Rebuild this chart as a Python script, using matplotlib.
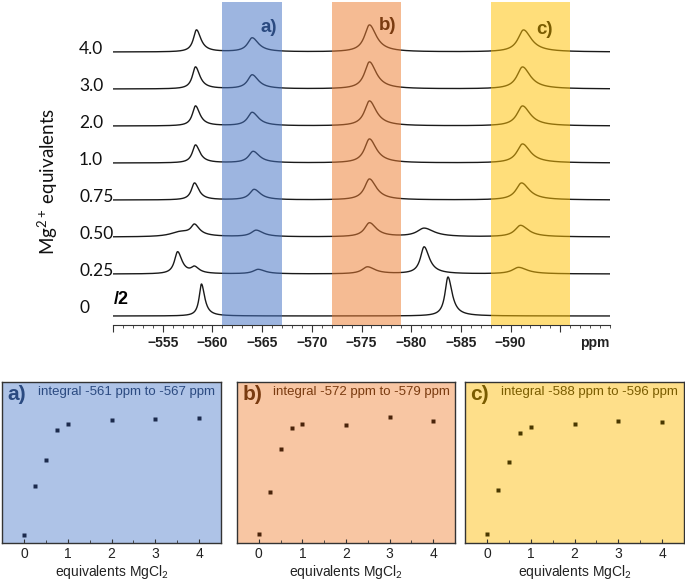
import numpy as np
import matplotlib
matplotlib.use('Agg')
import matplotlib.pyplot as plt
from matplotlib.ticker import MultipleLocator
from matplotlib.transforms import blended_transform_factory


# titration points (equivalents of MgCl2)
EQUIVALENTS = [0, 0.25, 0.5, 0.75, 1, 2, 3, 4]
TRACE_LABELS = ['0', '0.25', '0.50', '0.75', '1.0', '2.0', '3.0', '4.0']

# peaks of each spectrum: (shift ppm, height, half width ppm)
PEAKS_0 = [(-558.9, 32, 0.28), (-583.7, 39, 0.36)]
PEAKS_025 = [(-556.5, 22, 0.38), (-558.2, 6, 0.4), (-564.6, 4.5, 0.6), (-575.6, 7, 0.65),
             (-581.3, 27, 0.45), (-590.8, 6.5, 0.75)]
PEAKS_050 = [(-556.8, 5, 1.2), (-558.2, 10, 0.42), (-564.4, 6.5, 0.6), (-575.8, 14, 0.6),
             (-581.3, 8.5, 0.85), (-591.0, 11.5, 0.68)]
PEAKS_075 = [(-558.2, 17, 0.38), (-564.2, 10.5, 0.55), (-575.8, 21, 0.6), (-591.1, 17, 0.68)]
PEAKS_1 = [(-558.3, 18, 0.38), (-564.1, 11.5, 0.55), (-575.8, 24, 0.6), (-591.2, 19, 0.68)]
PEAKS_2 = [(-558.3, 20, 0.38), (-564.0, 13.5, 0.55), (-575.8, 25, 0.6), (-591.2, 20, 0.68)]
PEAKS_3 = [(-558.3, 22, 0.38), (-564.0, 14, 0.55), (-575.8, 27, 0.6), (-591.2, 22, 0.68)]
PEAKS_4 = [(-558.4, 22, 0.38), (-564.0, 14, 0.55), (-575.8, 27, 0.6), (-591.3, 22, 0.68)]
ALL_PEAKS = [PEAKS_0, PEAKS_025, PEAKS_050, PEAKS_075, PEAKS_1, PEAKS_2, PEAKS_3, PEAKS_4]

# integration windows
WINDOWS = [(-561, -567), (-572, -579), (-588, -596)]
WINDOW_NAMES = ['a)', 'b)', 'c)']

# normalised integrals for each window
INTEGRAL_A = [0.052, 0.355, 0.515, 0.701, 0.742, 0.767, 0.769, 0.779]
INTEGRAL_B = [0.056, 0.315, 0.581, 0.714, 0.741, 0.732, 0.784, 0.759]
INTEGRAL_C = [0.056, 0.332, 0.502, 0.685, 0.720, 0.741, 0.755, 0.751]

SPAN_COLORS = ['#4472c4', '#ed7d31', '#ffc000']
FACE_COLORS = ['#aec3e7', '#f8c6a3', '#fedf8a']
TEXT_COLORS = ['#2b4a80', '#7a3b10', '#7a5c00']
MARKER_COLORS = ['#1c2a4d', '#4a230a', '#4a3800']

W, H = 685, 582

plt.rcParams['mathtext.fontset'] = 'custom'
plt.rcParams['mathtext.rm'] = 'Lato'
plt.rcParams['mathtext.it'] = 'Lato:italic'


def spectrum(ppm, peaks, skew=1.4):
	'Sum of split Lorentzians, longer tail towards high field.'
	total = np.zeros_like(ppm)
	for centre, height, width in peaks:
		gamma = np.where(ppm < centre, width * skew, width)
		total += height * gamma ** 2 / ((ppm - centre) ** 2 + gamma ** 2)
	return total


def fig_rect(left, top, right, bottom):
	return [left / W, 1 - bottom / H, (right - left) / W, (bottom - top) / H]


fig = plt.figure(figsize=(W / 100, H / 100), dpi=100)

# ---- stacked spectra ----
ax = fig.add_axes(fig_rect(113, 2, 610, 325))
ppm = np.linspace(-550, -600, 2000)
offsets = [9] + [51 + 37 * i for i in range(7)]
for peaks, off in zip(ALL_PEAKS, offsets):
	ax.plot(ppm, off + spectrum(ppm, peaks), color='#1a1a1a', lw=1.0, zorder=2)

for (lo, hi), col in zip(WINDOWS, SPAN_COLORS):
	ax.axvspan(lo, hi, color=col, alpha=0.52, lw=0, zorder=3)

for (lo, hi), name, col, dx, y in zip(WINDOWS, WINDOW_NAMES, TEXT_COLORS, [-4.7, -5.6, -5.4], [298, 300, 295]):
	ax.text(lo + dx, y, name, color=col, fontsize=13.5, fontweight='bold', ha='center', va='center',
			family='Liberation Sans', zorder=4)

ax.set_xlim(-550, -600)
ax.set_ylim(0, 323)
for side in ['top', 'left', 'right']:
	ax.spines[side].set_visible(False)
ax.spines['bottom'].set_color('#333333')
ax.set_yticks([])
major = list(range(-550, -600, -5))
ax.set_xticks(major)
ax.set_xticklabels(['' if t in (-550, -595) else '\u2212%d' % -t for t in major],
				   fontsize=10, fontweight='bold', family='Liberation Sans', color='#222222')
ax.xaxis.set_minor_locator(MultipleLocator(1))
ax.tick_params(axis='x', which='major', direction='out', length=5, color='#333333', pad=3)
ax.tick_params(axis='x', which='minor', direction='out', length=2.5, color='#333333')
ax.set_facecolor('none')

lab_tf = blended_transform_factory(fig.transFigure, ax.transData)
for label, off in zip(TRACE_LABELS, offsets):
	dy = 8 if label == '0' else 3
	ax.text(79 / W, off + dy, label, transform=lab_tf, fontsize=12.5, family='Lato',
			ha='left', va='center', color='#111111')
ax.text(114 / W, 25, '/2', transform=lab_tf, fontsize=13, fontweight='bold',
		family='Liberation Sans', ha='left', va='center')
fig.text(595 / W, 1 - 343 / H, 'ppm', fontsize=10, fontweight='bold', family='Liberation Sans',
		 ha='center', va='center', color='#222222')
fig.text(48 / W, 1 - 181 / H, 'Mg$^{2+}$ equivalents', rotation=90, fontsize=13.5, family='Lato',
		 ha='center', va='center', color='#111111')

# ---- integral panels ----
panel_x = [(2, 221), (237, 455), (465, 684)]
integrals = [INTEGRAL_A, INTEGRAL_B, INTEGRAL_C]
for i, ((left, right), vals) in enumerate(zip(panel_x, integrals)):
	pax = fig.add_axes(fig_rect(left, 382, right, 543))
	pax.set_facecolor(FACE_COLORS[i])
	pax.plot(EQUIVALENTS, vals, 's', ms=3, color=MARKER_COLORS[i], mec='none')
	pax.set_xlim(-0.5, 4.5)
	pax.set_ylim(0, 1)
	pax.set_yticks([])
	pax.set_xticks([0, 1, 2, 3, 4])
	pax.xaxis.set_minor_locator(MultipleLocator(0.5))
	pax.tick_params(axis='x', which='both', direction='in', color='#333333', labelsize=10,
					labelcolor='#222222', pad=3)
	pax.tick_params(axis='x', which='major', length=3)
	pax.tick_params(axis='x', which='minor', length=2)
	for lbl in pax.get_xticklabels():
		lbl.set_family('Liberation Sans')
	for sp in pax.spines.values():
		sp.set_color('#333333')
		sp.set_linewidth(1.0)
	pax.set_xlabel('equivalents MgCl$_2$', fontsize=10, family='Liberation Sans',
				   color='#222222', labelpad=1)
	lo, hi = WINDOWS[i]
	pax.text(0.025, 0.92, WINDOW_NAMES[i], transform=pax.transAxes, fontsize=15,
			 fontweight='bold', family='Liberation Sans', color=TEXT_COLORS[i], va='center')
	pax.text(0.165, 0.94, 'integral %d ppm to %d ppm' % (lo, hi), transform=pax.transAxes,
			 fontsize=9.5, family='Liberation Sans', color=TEXT_COLORS[i], va='center')

fig.savefig('out.png', dpi=100)
